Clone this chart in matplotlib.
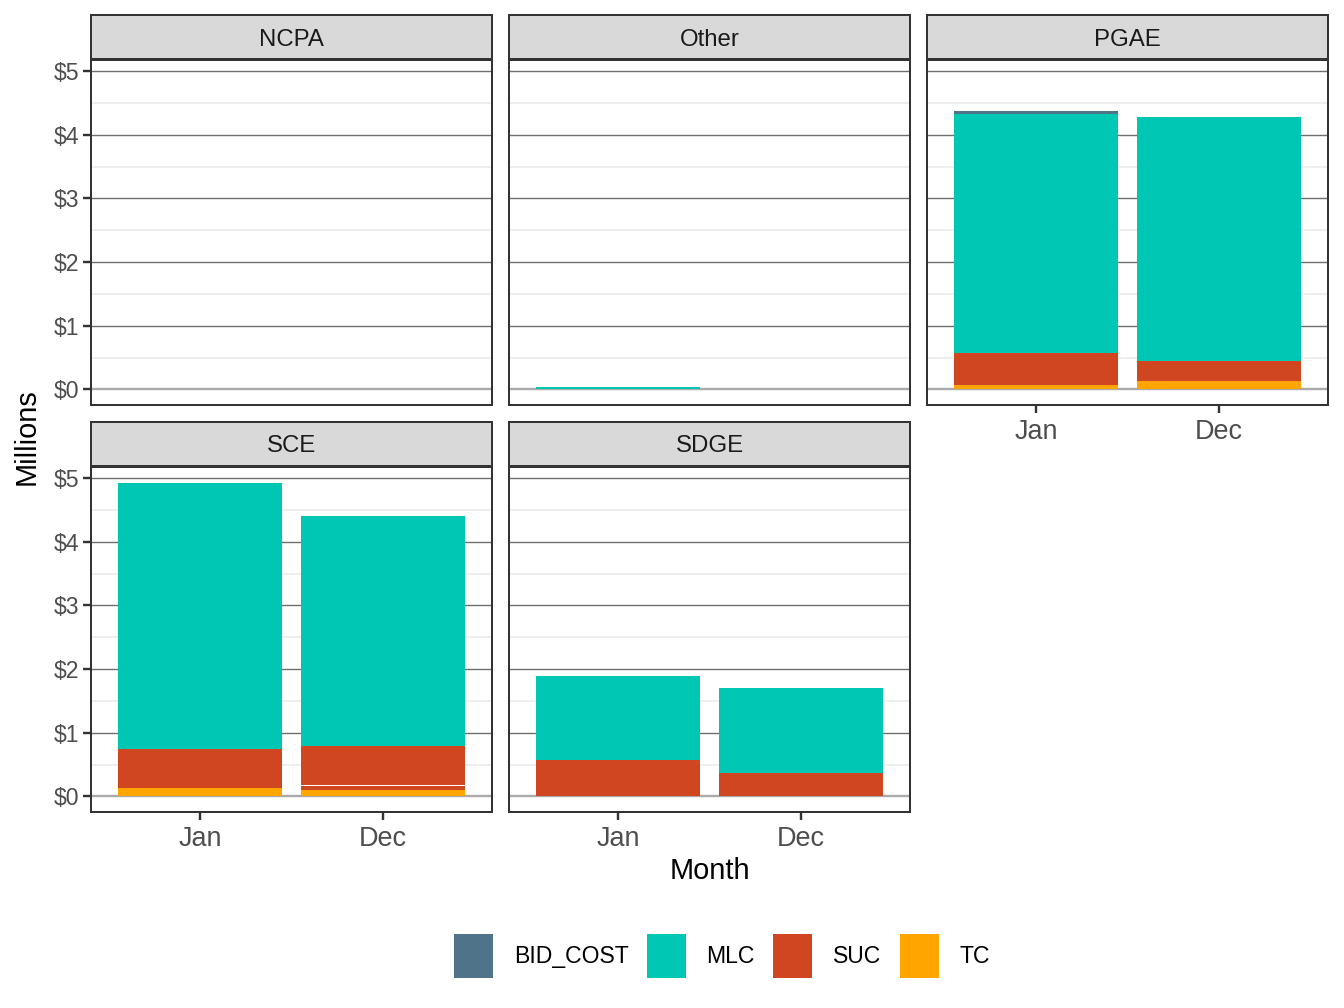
import numpy as np
import matplotlib.pyplot as plt
from matplotlib.patches import Patch

plt.rcParams['font.family'] = ['Liberation Sans', 'DejaVu Sans']

months = ['Jan', 'Dec']
facets = ['NCPA', 'Other', 'PGAE', 'SCE', 'SDGE']
components = ['TC', 'SUC', 'MLC', 'BID_COST']
colors = {'BID_COST': '#4f7389', 'MLC': '#00c7b3', 'SUC': '#d04621', 'TC': '#ffa500'}

# values in $ millions, [Jan, Dec], stacked bottom -> top
tc = {'NCPA': [0, 0], 'Other': [0, 0], 'PGAE': [0.067, 0.125],
      'SCE': [0.135, 0.105], 'SDGE': [0.005, 0.005]}
suc_low = {'NCPA': [0, 0], 'Other': [0, 0], 'PGAE': [0, 0],
           'SCE': [0, 0.058], 'SDGE': [0, 0]}
gap = {'NCPA': [0, 0], 'Other': [0, 0], 'PGAE': [0, 0],
       'SCE': [0, 0.012], 'SDGE': [0, 0]}
suc = {'NCPA': [0, 0], 'Other': [0, 0], 'PGAE': [0.50, 0.3125],
       'SCE': [0.61, 0.615], 'SDGE': [0.562, 0.359]}
mlc = {'NCPA': [0, 0], 'Other': [0.04, 0], 'PGAE': [3.766, 3.84],
       'SCE': [4.185, 3.61], 'SDGE': [1.328, 1.336]}
bid = {'NCPA': [0, 0], 'Other': [0, 0], 'PGAE': [0.045, 0],
       'SCE': [0, 0], 'SDGE': [0, 0]}

W, H = 1344, 1008
fig = plt.figure(figsize=(W / 144, H / 144), dpi=144)


def box(x0, y0, x1, y1):
    return [x0 / W, 1 - y1 / H, (x1 - x0) / W, (y1 - y0) / H]


cols = [(91, 492), (509, 910), (927, 1328)]
rows = [(15, 59, 405), (422, 466, 812)]
pos = [(0, 0), (0, 1), (0, 2), (1, 0), (1, 1)]

x = np.arange(1, 3)
for f, (r, c) in zip(facets, pos):
    st, sb, pb = rows[r]
    x0, x1 = cols[c]
    ax = fig.add_axes(box(x0, sb + 1, x1, pb))
    sax = fig.add_axes(box(x0, st, x1, sb))

    ax.set_xlim(0.4, 2.6)
    ax.set_ylim(-0.2465, 5.1765)
    for v in np.arange(0.5, 5.5, 1):
        ax.axhline(v, color='#ebebeb', lw=0.8, zorder=0)
    for v in range(1, 6):
        ax.axhline(v, color='#6e6e6e', lw=0.7, zorder=0)
    ax.axhline(0, color='#aaaaaa', lw=1.2, zorder=0)

    bottom = np.zeros(2)
    layers = [(tc[f], colors['TC']), (suc_low[f], colors['SUC']),
              (gap[f], 'white'), (suc[f], colors['SUC']),
              (mlc[f], colors['MLC']), (bid[f], colors['BID_COST'])]
    for vals, col in layers:
        vals = np.array(vals, dtype=float)
        ax.bar(x, vals, 0.9, bottom=bottom, color=col, linewidth=0, zorder=2)
        bottom += vals

    for s in ax.spines.values():
        s.set_color('#333333')
        s.set_linewidth(1.0)

    ax.set_yticks(range(0, 6))
    if c == 0:
        ax.set_yticklabels(['$%d' % v for v in range(0, 6)])
        ax.tick_params(axis='y', length=4, width=1.2, color='#333333',
                       labelsize=11.5, labelcolor='#4d4d4d', pad=2)
    else:
        ax.set_yticklabels([])
        ax.tick_params(axis='y', length=0)

    ax.set_xticks(x)
    show_x = (r == 1) or (f == 'PGAE')
    if show_x:
        ax.set_xticklabels(months)
        ax.tick_params(axis='x', length=4, width=1.2, color='#333333',
                       labelsize=13.5, labelcolor='#4d4d4d', pad=3)
    else:
        ax.set_xticklabels([])
        ax.tick_params(axis='x', length=0)

    sax.set_facecolor('#d9d9d9')
    sax.set_xticks([])
    sax.set_yticks([])
    for s in sax.spines.values():
        s.set_color('#333333')
        s.set_linewidth(1.0)
    sax.text(0.5, 0.5, f, ha='center', va='center_baseline', fontsize=12,
             color='#1a1a1a', transform=sax.transAxes)

fig.text(27 / W, 1 - 437 / H, 'Millions', rotation=90, ha='center',
         va='center', fontsize=14.5)
fig.text(710 / W, 1 - 871 / H, 'Month', ha='center', va='center', fontsize=14.5)

order = ['BID_COST', 'MLC', 'SUC', 'TC']
handles = [Patch(facecolor=colors[k], edgecolor='none', label=k) for k in order]
fig.legend(handles=handles, loc='center', bbox_to_anchor=(722 / W, 1 - 956 / H),
           ncol=4, frameon=False, fontsize=11.5, handlelength=1.7,
           handleheight=2.5, handletextpad=0.9, columnspacing=0.8)

fig.savefig('out.png', dpi=144)
